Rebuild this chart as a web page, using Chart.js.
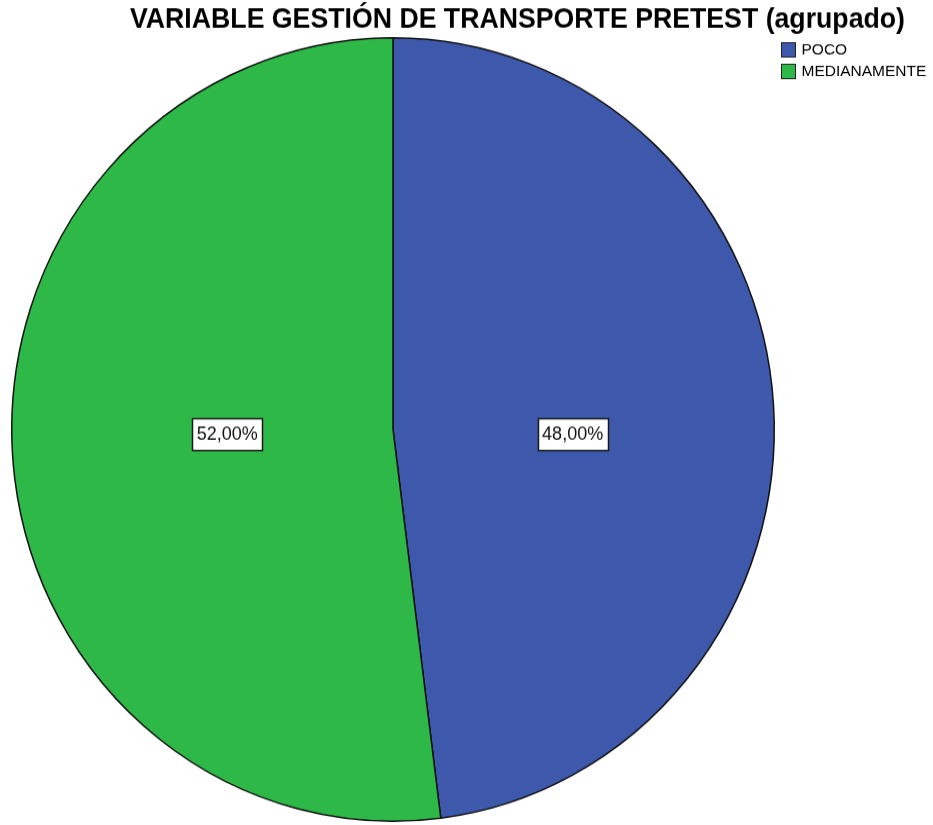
<!DOCTYPE html>
<html>
<head>
<meta charset="utf-8">
<script src="https://cdn.jsdelivr.net/npm/chart.js@4/dist/chart.umd.min.js"></script>
<style>
  html, body { margin: 0; padding: 0; background: #fff; overflow: hidden; }
  #wrap { width: 933px; height: 825px; position: relative; }
  /* the pie is slightly taller than wide, so the canvas is stretched a bit */
  #pie { position: absolute; left: 0; top: 0; transform-origin: 0 0; transform: scaleY(1.0275); }
</style>
</head>
<body>
<div id="wrap"><canvas id="pie" width="933" height="803"></canvas></div>
<script>
var chartTitle = 'VARIABLE GESTIÓN DE TRANSPORTE PRETEST (agrupado)';
var categories = ['POCO', 'MEDIANAMENTE'];
var percents = [48.00, 52.00];
var sliceColors = ['#3e58ac', '#2eb848'];

function fmtPct(v) {
  return v.toFixed(2).replace('.', ',') + '%';
}

/* title, legend and value boxes drawn on top of the arcs */
var decorations = {
  id: 'decorations',
  afterDraw: function(chart) {
    var ctx = chart.ctx;
    ctx.save();

    // title, squeezed to the width it takes in the SPSS output
    ctx.font = 'bold 28px "Liberation Sans", Arial, sans-serif';
    ctx.fillStyle = '#000';
    ctx.textBaseline = 'middle';
    ctx.textAlign = 'left';
    var w = ctx.measureText(chartTitle).width;
    ctx.save();
    ctx.translate(130, 19.5);
    ctx.scale(775 / w, 1);
    ctx.fillText(chartTitle, 0, 0);
    ctx.restore();

    // legend
    ctx.font = '15.5px "Liberation Sans", Arial, sans-serif';
    categories.forEach(function(name, i) {
      var y = 41 + i * 21;
      ctx.fillStyle = sliceColors[i];
      ctx.fillRect(781.5, y + 0.5, 14, 14);
      ctx.strokeStyle = '#222';
      ctx.lineWidth = 1;
      ctx.strokeRect(781.5, y + 0.5, 14, 14);
      ctx.fillStyle = '#000';
      ctx.fillText(name, 801.5, y + 8);
    });

    // percentage boxes, near each slice's centroid on the horizontal through the centre
    var meta = chart.getDatasetMeta(0);
    ctx.font = '18px "Liberation Sans", Arial, sans-serif';
    ctx.textAlign = 'center';
    meta.data.forEach(function(arc, i) {
      var p = arc.getProps(['x', 'y', 'startAngle', 'endAngle', 'outerRadius'], true);
      var half = (p.endAngle - p.startAngle) / 2;
      var mid = p.startAngle + half;
      var dist = 1.07 * 2 * p.outerRadius * Math.sin(half) / (3 * half);
      var lx = p.x + Math.cos(mid) * dist;
      var ly = p.y + 4.5;
      var txt = fmtPct(percents[i]);
      var tw = ctx.measureText(txt).width;
      var bw = Math.round(tw + 9), bh = 31;
      var bx = Math.round(lx - bw / 2) + 0.5, by = Math.round(ly - bh / 2) + 0.5;
      ctx.fillStyle = '#fff';
      ctx.fillRect(bx, by, bw, bh);
      ctx.strokeStyle = '#1a1a1a';
      ctx.lineWidth = 1.5;
      ctx.strokeRect(bx, by, bw, bh);
      ctx.fillStyle = '#111';
      ctx.fillText(txt, lx, ly + 1);
    });

    ctx.restore();
  }
};

new Chart(document.getElementById('pie'), {
  type: 'pie',
  data: {
    labels: categories,
    datasets: [{
      data: percents,
      backgroundColor: sliceColors,
      borderColor: '#111',
      borderWidth: 1.5
    }]
  },
  options: {
    responsive: false,
    animation: false,
    devicePixelRatio: 1,
    layout: {
      padding: { left: 11, right: 158, top: 36, bottom: 3 }
    },
    plugins: {
      legend: { display: false },
      title: { display: false },
      tooltip: { enabled: false }
    }
  },
  plugins: [decorations]
});
</script>
</body>
</html>
